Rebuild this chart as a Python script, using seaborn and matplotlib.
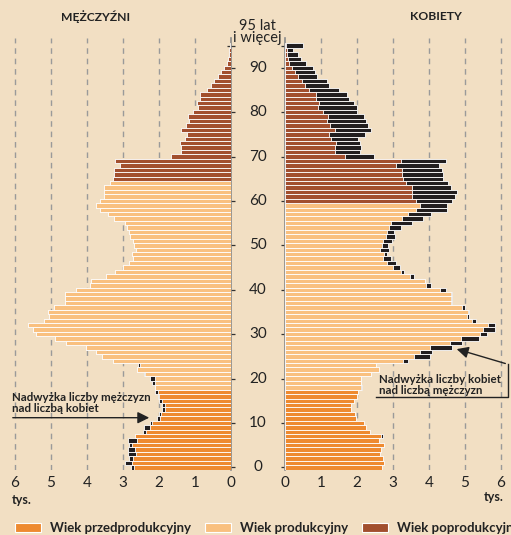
import numpy as np
import pandas as pd
import matplotlib
matplotlib.use("Agg")
import matplotlib.pyplot as plt
import matplotlib.transforms as mtransforms
from matplotlib.patches import Rectangle, FancyArrowPatch
import seaborn as sns

# ages 0 .. 95 (95 = "95 lat i więcej"), values in thousands
ages = list(range(96))
male = [2.78, 2.95, 2.82, 2.87, 2.87, 2.82, 2.85, 2.66, 2.45, 2.43,
        2.25, 2.06, 2.0, 1.92, 1.93, 1.99, 2.04, 2.1, 2.12, 2.2,
        2.24, 2.43, 2.6, 2.59, 3.27, 3.57, 3.76, 4.04, 4.58, 4.9,
        5.42, 5.51, 5.63, 5.19, 5.05, 5.07, 4.93, 4.6, 4.61, 4.61,
        4.3, 3.91, 3.9, 3.46, 3.22, 2.99, 2.82, 2.71, 2.76, 2.64,
        2.69, 2.71, 2.8, 2.82, 2.88, 2.94, 3.24, 3.43, 3.64, 3.74,
        3.64, 3.52, 3.53, 3.52, 3.36, 3.29, 3.25, 3.24, 3.07, 3.21,
        1.68, 1.4, 1.4, 1.43, 1.29, 1.23, 1.38, 1.26, 1.17, 1.19,
        1.06, 0.93, 0.95, 0.87, 0.87, 0.68, 0.56, 0.47, 0.37, 0.28,
        0.19, 0.12, 0.07, 0.06, 0.05, 0.04]
female = [2.70, 2.74, 2.72, 2.65, 2.67, 2.74, 2.62, 2.72, 2.37, 2.26,
          2.19, 1.97, 1.94, 1.82, 1.84, 1.93, 1.99, 2.02, 2.14, 2.1,
          2.1, 2.4, 2.6, 2.53, 3.42, 4.03, 4.08, 4.63, 4.91, 5.4,
          5.62, 5.82, 5.82, 5.3, 5.1, 5.1, 5.0, 4.63, 4.65, 4.64,
          4.48, 4.06, 3.9, 3.57, 3.31, 3.2, 3.07, 2.95, 2.83, 2.9,
          2.85, 2.97, 3.05, 3.04, 3.23, 3.53, 3.83, 4.06, 4.5, 4.51,
          4.65, 4.71, 4.79, 4.62, 4.54, 4.38, 4.4, 4.37, 4.27, 4.48,
          2.48, 2.08, 2.1, 2.07, 2.03, 2.22, 2.4, 2.3, 2.26, 2.19,
          1.99, 1.99, 1.91, 1.79, 1.73, 1.5, 1.22, 1.17, 0.9, 0.82,
          0.78, 0.57, 0.45, 0.36, 0.22, 0.5]

groups = ["Wiek przedprodukcyjny", "Wiek produkcyjny", "Wiek poprodukcyjny"]
colors = ["#EE8A30", "#F9C07F", "#A24F2E"]
excess_color = "#221E1F"
male_retire = 65
female_retire = 60
age_ticks = [0, 10, 20, 30, 40, 50, 60, 70, 80, 90, 95]
x_ticks = [0, 1, 2, 3, 4, 5, 6]

bg = "#F2DFC3"
txt = "#222222"
plt.rcParams['font.family'] = ['Lato', 'DejaVu Sans']


def group_of(age, retire):
    if age < 18:
        return groups[0]
    if age < retire:
        return groups[1]
    return groups[2]


common = np.minimum(male, female)
df_m = pd.DataFrame({"age": ages, "value": male, "common": common,
                     "group": [group_of(a, male_retire) for a in ages]})
df_f = pd.DataFrame({"age": ages, "value": female, "common": common,
                     "group": [group_of(a, female_retire) for a in ages]})

W, H = 511, 535
fig = plt.figure(figsize=(W / 100, H / 100), dpi=100, facecolor=bg)

y_bot, y_top = 470, 38
ax_b = (H - y_bot) / H
ax_h = (y_bot - y_top) / H
xmax = 6.25
ax_m = fig.add_axes([(231 - xmax * 36) / W, ax_b, xmax * 36 / W, ax_h])
ax_f = fig.add_axes([285 / W, ax_b, xmax * 36 / W, ax_h])

palette = dict(zip(groups, colors))
for ax, df in [(ax_m, df_m), (ax_f, df_f)]:
    ax.set_facecolor("none")
    for g in x_ticks[1:]:
        ax.axvline(g, color="#9a9a9a", lw=1.0, ls=(0, (4, 3.5)), zorder=0)
    # excess part (black) drawn full length, common part drawn over it
    sns.barplot(data=df, x="value", y="age", orient="h", native_scale=True,
                color=excess_color, saturation=1, width=1, errorbar=None,
                edgecolor="white", linewidth=0.6, ax=ax, zorder=2)
    sns.barplot(data=df, x="common", y="age", hue="group", palette=palette,
                hue_order=groups, orient="h", native_scale=True, dodge=False,
                saturation=1, width=1, errorbar=None, edgecolor="white",
                linewidth=0.6, legend=False, ax=ax, zorder=3)
    ax.set_ylim(-0.6, 96.7)
    ax.set_xlabel("")
    ax.set_ylabel("")
    ax.set_xticks(x_ticks)
    ax.set_xticklabels([str(t) for t in x_ticks], fontsize=11, color=txt)
    ax.tick_params(axis="x", length=0, pad=4)
    ax.set_yticks(age_ticks)
    ax.set_yticklabels([])
    ax.tick_params(axis="y", direction="inout", length=6, width=0.9,
                   color="#333")
    for s in ax.spines.values():
        s.set_visible(False)

ax_m.set_xlim(xmax, 0)
ax_f.set_xlim(0, xmax)
ax_m.yaxis.tick_right()
for ax, side in [(ax_m, "right"), (ax_f, "left")]:
    ax.spines[side].set_visible(True)
    ax.spines[side].set_color("#8a8a8a")
    ax.spines[side].set_linewidth(1.2)

# age labels in the middle column
trans = mtransforms.blended_transform_factory(fig.transFigure, ax_m.transData)
for a in age_ticks[:-1]:
    fig.text(258 / W, a, str(a), transform=trans, ha="center", va="center",
             fontsize=11, color=txt)
fig.text(257 / W, 1 - 32 / H, "95 lat\ni więcej", ha="center", va="center",
         fontsize=10.5, color=txt, linespacing=0.8)

# titles
fig.text(96 / W, 1 - 17 / H, "MĘŻCZYŹNI", ha="center", va="center",
         fontsize=8.7, fontweight="bold", color=txt)
fig.text(436 / W, 1 - 17 / H, "KOBIETY", ha="center", va="center",
         fontsize=8.7, fontweight="bold", color=txt)
fig.text(12 / W, 1 - 500 / H, "tys.", ha="left", va="center",
         fontsize=9, fontweight="bold", color=txt)
fig.text(484 / W, 1 - 497 / H, "tys.", ha="left", va="center",
         fontsize=9, fontweight="bold", color=txt)

# annotations
fig.text(12 / W, 1 - 403 / H, "Nadwyżka liczby mężczyzn\nnad liczbą kobiet",
         ha="left", va="center", fontsize=8.3, fontweight="bold",
         color=txt, linespacing=1.05)
fig.add_artist(FancyArrowPatch(
    (10 / W, 1 - 417.7 / H), (152 / W, 1 - 417.7 / H),
    transform=fig.transFigure, arrowstyle="-|>,head_length=7,head_width=3.5",
    color=txt, lw=1.0, mutation_scale=1))
fig.text(379 / W, 1 - 385 / H, "Nadwyżka liczby kobiet\nnad liczbą mężczyzn",
         ha="left", va="center", fontsize=8.3, fontweight="bold",
         color=txt, linespacing=1.05)
fig.add_artist(plt.Line2D([376 / W, 508 / W, 508 / W],
                          [1 - 396.7 / H, 1 - 396.7 / H, 1 - 364.3 / H],
                          transform=fig.transFigure, color=txt, lw=1.0))
fig.add_artist(FancyArrowPatch(
    (508 / W, 1 - 364.3 / H), (454 / W, 1 - 348.3 / H),
    transform=fig.transFigure, arrowstyle="-|>,head_length=7,head_width=3.5",
    color=txt, lw=1.0, mutation_scale=1))

# legend
leg_x = [15, 205, 362]
for x0, lab, col in zip(leg_x, groups, colors):
    fig.add_artist(Rectangle((x0 / W, 1 - 532 / H), 26 / W, 9 / H,
                             transform=fig.transFigure, facecolor=col,
                             edgecolor="white", lw=0.8))
    fig.text((x0 + 35) / W, 1 - 527.5 / H, lab, ha="left", va="center",
             fontsize=9.5, fontweight="bold", color=txt)

fig.savefig("out.png", dpi=100, facecolor=bg)
